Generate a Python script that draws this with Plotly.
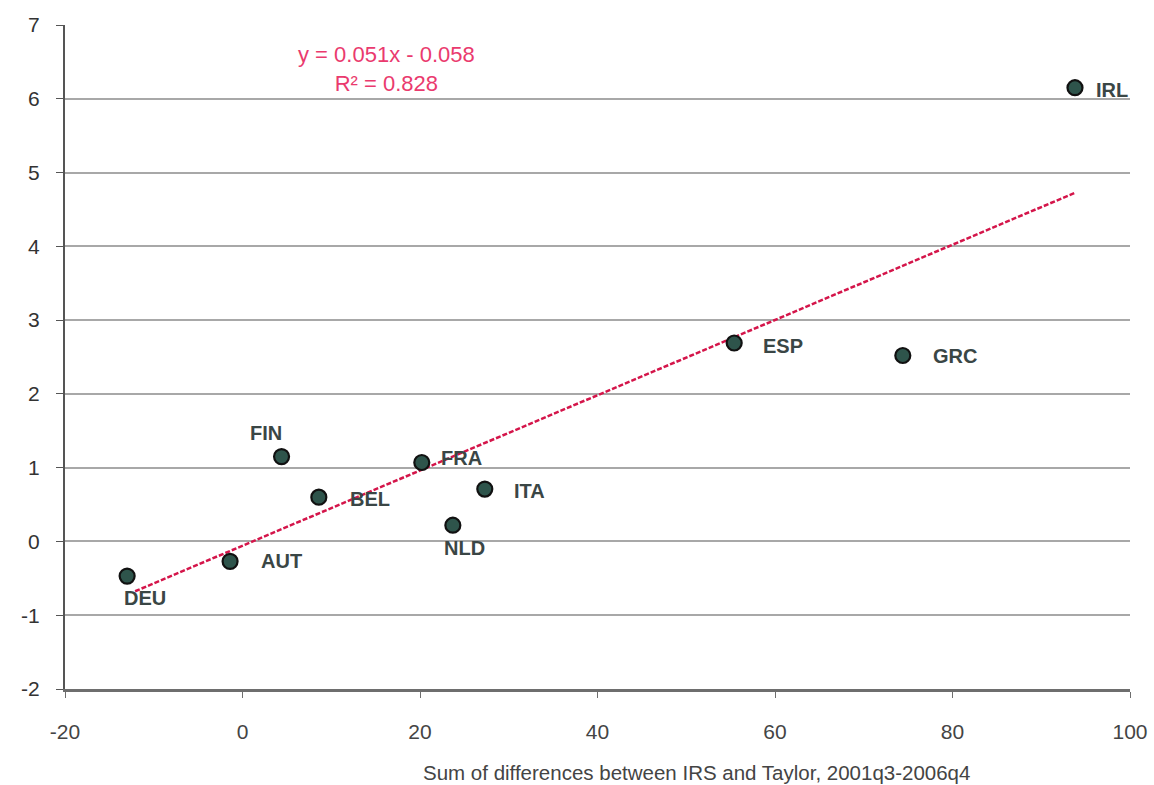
import plotly.graph_objects as go

# Country codes and coordinates
countries = ["DEU", "AUT", "FIN", "BEL", "FRA", "NLD", "ITA", "ESP", "GRC", "IRL"]
irs_taylor_gap = [-13.0, -1.4, 4.4, 8.6, 20.2, 23.7, 27.3, 55.4, 74.4, 93.8]
y_values = [-0.47, -0.27, 1.15, 0.60, 1.07, 0.22, 0.71, 2.69, 2.52, 6.15]

# Linear trend stated on the chart
slope = 0.051
intercept = -0.058
r_squared = 0.828

# Label offsets (pixels) per country
label_dx = [18, 51, -16, 51, 40, 12, 45, 49, 52, 37]
label_dy = [-22, 0, 24, -2, 5, -23, -2, -3, 0, -2]

x_ticks = [-20, 0, 20, 40, 60, 80, 100]
y_ticks = [-2, -1, 0, 1, 2, 3, 4, 5, 6, 7]

FONT = "Liberation Sans, Arial, sans-serif"

fig = go.Figure()

x_lo, x_hi = -12.1, max(irs_taylor_gap)
fig.add_trace(go.Scatter(
    x=[x_lo, x_hi],
    y=[slope * x_lo + intercept, slope * x_hi + intercept],
    mode="lines",
    line=dict(color="#d4154a", width=2.5, dash="5px,2px"),
    hoverinfo="skip",
    showlegend=False,
))

fig.add_trace(go.Scatter(
    x=irs_taylor_gap,
    y=y_values,
    mode="markers",
    marker=dict(size=15, color="#2e544b", line=dict(color="#111111", width=2.2)),
    showlegend=False,
))

for name, xv, yv, dx, dy in zip(countries, irs_taylor_gap, y_values, label_dx, label_dy):
    fig.add_annotation(
        x=xv, y=yv, text=f"<b>{name}</b>", showarrow=False,
        xshift=dx, yshift=dy,
        font=dict(family=FONT, size=20, color="#3a4645"),
    )

fig.add_annotation(
    xref="paper", yref="paper", x=0.302, y=0.977,
    xanchor="center", yanchor="top",
    text=f"y = {slope}x - {abs(intercept)}<br>R² = {r_squared}",
    showarrow=False, align="center",
    font=dict(family=FONT, size=22, color="#ea3a6e"),
)

fig.add_annotation(
    xref="paper", yref="paper", x=0.593, y=-0.105,
    xanchor="center", yanchor="top",
    text="Sum of differences between IRS and Taylor, 2001q3-2006q4",
    showarrow=False,
    font=dict(family=FONT, size=20.5, color="#444444"),
)

fig.update_layout(
    width=1154, height=785,
    margin=dict(l=65, r=24, t=25, b=96, autoexpand=False),
    paper_bgcolor="white", plot_bgcolor="white",
    font=dict(family=FONT, size=21, color="#333333"),
    xaxis=dict(
        range=[-20, 100], tickvals=x_ticks,
        ticktext=[str(v) for v in x_ticks],
        showgrid=False, zeroline=False, automargin=False,
        showline=True, linecolor="#6e6e6e", linewidth=2.5,
        ticks="outside", ticklen=6, tickcolor="#6e6e6e",
        ticklabelstandoff=16,
        tickfont=dict(family=FONT, size=21, color="#444444"),
    ),
    yaxis=dict(
        range=[-2, 7], tickvals=y_ticks,
        ticktext=[str(v) for v in y_ticks],
        showgrid=True, gridcolor="#a8a8a8", automargin=False,
        gridwidth=2.2, zeroline=False,
        showline=True, linecolor="#555555", linewidth=2,
        ticks="outside", ticklen=7, tickcolor="#555555",
        ticklabelstandoff=12,
        tickfont=dict(family=FONT, size=21, color="#333333"),
    ),
)

fig.write_html("out.html")
